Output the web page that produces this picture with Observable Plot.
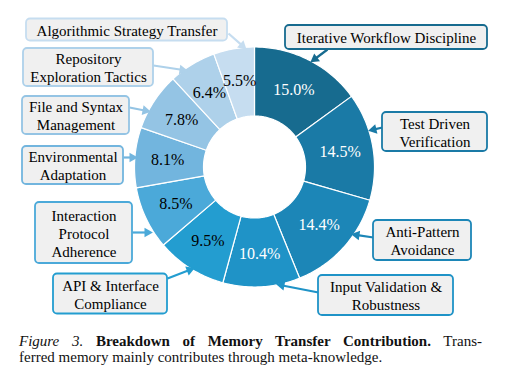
<!DOCTYPE html>
<html>
<head>
<meta charset="utf-8">
<script src="https://cdn.jsdelivr.net/npm/d3@7"></script>
<script src="https://cdn.jsdelivr.net/npm/@observablehq/plot@0.6"></script>
<style>
  html, body { margin: 0; padding: 0; background: #fff; }
  #chart svg { display: block; }
  .cap { font-family: "Liberation Serif", Tinos, "DejaVu Serif", serif; font-size: 15px; line-height: 16px; color: #111; margin: 11px 0 0 19px; width: 463px; white-space: nowrap; }
  .cap .l1 { display: block; text-align: justify; text-align-last: justify; }
</style>
</head>
<body>
<div id="chart"></div>
<div class="cap"><span class="l1"><i>Figure 3.</i> <b>Breakdown of Memory Transfer Contribution.</b> Trans-</span>ferred memory mainly contributes through meta-knowledge.</div>
<script>
// ---- data ----
const categories = [
  "Iterative Workflow Discipline",
  "Test Driven Verification",
  "Anti-Pattern Avoidance",
  "Input Validation & Robustness",
  "API & Interface Compliance",
  "Interaction Protocol Adherence",
  "Environmental Adaptation",
  "File and Syntax Management",
  "Repository Exploration Tactics",
  "Algorithmic Strategy Transfer"
];
const values = [15.0, 14.5, 14.4, 10.4, 9.5, 8.5, 8.1, 7.8, 6.4, 5.5];
const valueLabels = ["15.0%", "14.5%", "14.4%", "10.4%", "9.5%", "8.5%", "8.1%", "7.8%", "6.4%", "5.5%"];
const boxLabels = [
  "Iterative Workflow Discipline",
  "Test Driven\nVerification",
  "Anti-Pattern\nAvoidance",
  "Input Validation &\nRobustness",
  "API & Interface\nCompliance",
  "Interaction\nProtocol\nAdherence",
  "Environmental\nAdaptation",
  "File and Syntax\nManagement",
  "Repository\nExploration Tactics",
  "Algorithmic Strategy Transfer"
];

// ---- styles ----
const colors = ["#176b8f", "#1a7aa6", "#1c86b7", "#1f93c7", "#239dd0", "#4ba9d9", "#72b5de", "#94c4e4", "#aed1ea", "#c6ddf0"];
const whiteText = [true, true, true, true, false, false, false, false, false, false];

// ---- layout (pixels) ----
const W = 507, H = 322;
const cx = 254, cy = 166.5, R = 120, R0 = 51, RL = 87;
// label boxes: [centerX, centerY, width, height]
const boxes = [
  [386, 37, 202, 24],
  [434.5, 131.5, 105, 39],
  [422, 240, 98, 40],
  [385.5, 295, 135, 40],
  [110, 293.5, 114, 40],
  [83.5, 232.5, 97, 61],
  [72.5, 165, 101, 38],
  [75.5, 115, 107, 38],
  [88, 67, 130, 38],
  [126.5, 29.5, 201, 22]
];
// arrows: [x1, y1, x2, y2] (box edge -> wedge)
const arrows = [
  [327, 49, 311, 61],
  [382, 127, 369, 130],
  [373, 237, 352, 234],
  [318, 292, 277, 284],
  [167, 278, 193, 268],
  [132, 232, 151, 232],
  [123, 157, 136, 157],
  [129, 107, 149, 111],
  [153, 65, 186, 70],
  [228, 33, 245, 48]
];

// ---- build pie geometry from values ----
const pie = d3.pie().sort(null).value(d => d.value);
const arcs = pie(categories.map((name, i) => ({name, value: values[i], i})));
const pt = (a, r) => [cx + r * Math.sin(a), cy - r * Math.cos(a)];
const poly = [];
for (const a of arcs) {
  const n = Math.max(8, Math.ceil((a.endAngle - a.startAngle) * 60));
  for (let k = 0; k <= n; k++) {
    const t = a.startAngle + (a.endAngle - a.startAngle) * k / n;
    const [x, y] = pt(t, R);
    poly.push({name: a.data.name, x, y});
  }
  for (let k = n; k >= 0; k--) {
    const t = a.startAngle + (a.endAngle - a.startAngle) * k / n;
    const [x, y] = pt(t, R0);
    poly.push({name: a.data.name, x, y});
  }
}
const pctData = arcs.map(a => {
  const m = (a.startAngle + a.endAngle) / 2;
  const [x, y] = pt(m, RL);
  return {x, y, text: valueLabels[a.data.i], white: whiteText[a.data.i]};
});
const boxData = categories.map((name, i) => ({
  name, text: boxLabels[i],
  x1: boxes[i][0] - boxes[i][2] / 2, x2: boxes[i][0] + boxes[i][2] / 2,
  y1: boxes[i][1] - boxes[i][3] / 2, y2: boxes[i][1] + boxes[i][3] / 2,
  x: boxes[i][0], y: boxes[i][1]
}));
const arrowData = categories.map((name, i) => {
  const [x1, y1, x2, y2] = arrows[i];
  const dx = x2 - x1, dy = y2 - y1, L = Math.hypot(dx, dy);
  const ux = dx / L, uy = dy / L;
  return {
    name, x1, y1, x2: x2 - ux * 5, y2: y2 - uy * 5,
    hx: x2 - ux * 4.2, hy: y2 - uy * 4.2,
    rot: Math.atan2(dx, -dy) * 180 / Math.PI
  };
});

const font = "'Liberation Serif', Tinos, 'DejaVu Serif', serif";
const chart = Plot.plot({
  width: W, height: H, margin: 0,
  style: {fontFamily: font, background: "white"},
  x: {domain: [0, W], range: [0, W], axis: null},
  y: {domain: [0, H], range: [0, H], axis: null},
  color: {domain: categories, range: colors},
  marks: [
    Plot.line(poly, {x: "x", y: "y", z: "name", fill: "name", stroke: "white", strokeWidth: 1.2, curve: "linear-closed"}),
    Plot.text(pctData.filter(d => d.white), {x: "x", y: "y", text: "text", fill: "white", fontSize: 16, fontFamily: font}),
    Plot.text(pctData.filter(d => !d.white), {x: "x", y: "y", text: "text", fill: "black", fontSize: 16, fontFamily: font}),
    Plot.link(arrowData, {x1: "x1", y1: "y1", x2: "x2", y2: "y2", stroke: "name", strokeWidth: 2.2}),
    Plot.dot(arrowData, {x: "hx", y: "hy", symbol: "triangle", r: 3.6, fill: "name", stroke: null, rotate: "rot"}),
    Plot.rect(boxData, {x1: "x1", x2: "x2", y1: "y1", y2: "y2", rx: 4, fill: "#f0f0f0", stroke: "name", strokeWidth: 1.8}),
    Plot.text(boxData, {x: "x", y: "y", text: "text", fill: "black", fontSize: 15, lineHeight: 1.2, fontFamily: font})
  ]
});
document.getElementById("chart").appendChild(chart);
</script>
</body>
</html>
